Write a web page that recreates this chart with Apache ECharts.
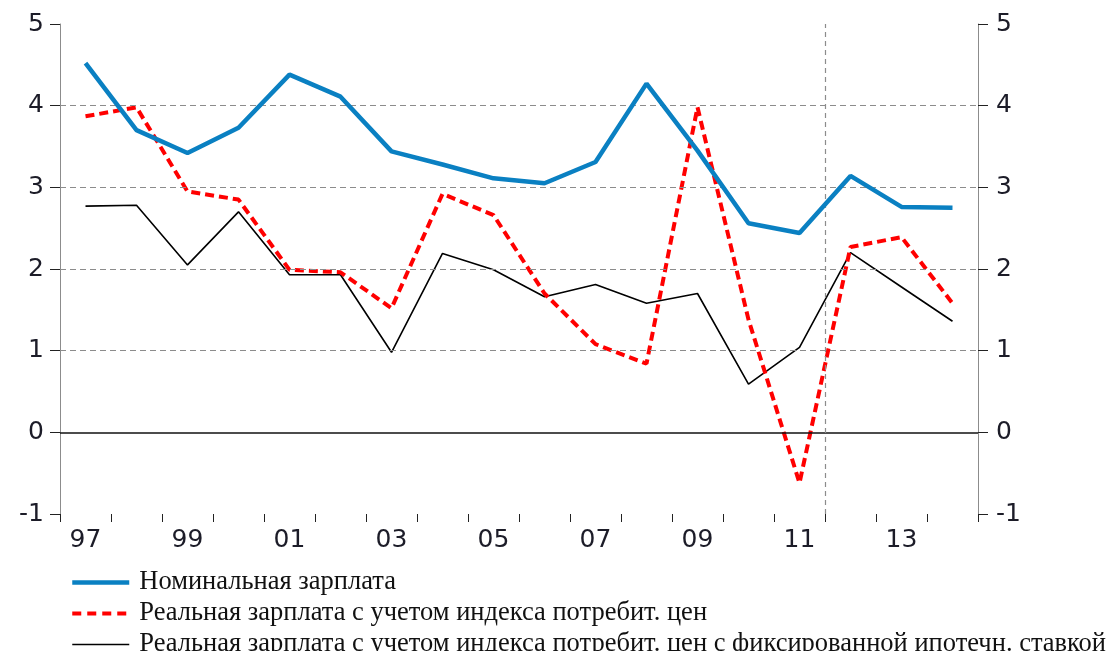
<!DOCTYPE html>
<html>
<head>
<meta charset="utf-8">
<style>
  html, body { margin: 0; padding: 0; background: #fff; }
  #chart { width: 1110px; height: 651px; }
</style>
<script src="https://cdn.jsdelivr.net/npm/echarts@6/dist/echarts.min.js"></script>
</head>
<body>
<div id="chart"></div>
<script>
'use strict';

const years = ['97', '98', '99', '00', '01', '02', '03', '04', '05', '06', '07', '08', '09', '10', '11', '12', '13', '14'];
const nominal = [4.52, 3.70, 3.42, 3.73, 4.38, 4.11, 3.44, 3.28, 3.11, 3.05, 3.31, 4.27, 3.45, 2.56, 2.44, 3.14, 2.76, 2.75];
const realCpi = [3.87, 3.98, 2.95, 2.85, 1.99, 1.96, 1.52, 2.92, 2.66, 1.70, 1.08, 0.84, 3.98, 1.38, -0.62, 2.27, 2.39, 1.58];
const realFixed = [2.77, 2.78, 2.05, 2.70, 1.93, 1.93, 0.98, 2.19, 1.99, 1.66, 1.81, 1.58, 1.70, 0.59, 1.04, 2.20, 1.78, 1.36];
const gridValues = [1, 2, 3, 4];
const breakAt = 15; // boundary between 2011 and 2012

const names = [
  'Номинальная зарплата',
  'Реальная зарплата с учетом индекса потребит. цен',
  'Реальная зарплата с учетом индекса потребит. цен с фиксированной ипотечн. ставкой',
];

const BLUE = '#0a80c2';
const RED = '#ff0000';
const axisFont = { fontFamily: 'DejaVu Sans', fontSize: 25, color: '#1c1c28' };
const grey = '#8c8c8c';

const chart = echarts.init(document.getElementById('chart'));
chart.setOption({
  animation: false,
  grid: { left: 60, right: 132, top: 24, bottom: 137 },
  legend: {
    orient: 'vertical',
    left: 70,
    top: 569,
    height: 120,
    itemWidth: 57,
    itemHeight: 14,
    itemGap: 4,
    padding: 0,
    itemStyle: { opacity: 0 },
    textStyle: { fontFamily: 'Liberation Serif', fontSize: 26.5, color: '#111', padding: [0, 0, 0, 5] },
    data: [
      { name: names[0], lineStyle: { color: BLUE, width: 4.5 } },
      { name: names[1], lineStyle: { color: RED, width: 4, type: [9, 6] } },
      { name: names[2], lineStyle: { color: '#000', width: 1.5 } },
    ],
  },
  xAxis: [{
    type: 'category',
    data: years,
    boundaryGap: true,
    axisLine: { show: false, onZero: false },
    axisTick: { show: true, interval: 0, length: 8, lineStyle: { color: '#222' } },
    axisLabel: { interval: 1, margin: 14, ...axisFont },
    splitLine: { show: false },
  }, {
    type: 'value',
    min: 0,
    max: years.length,
    show: false,
  }],
  yAxis: [{
    type: 'value',
    min: -1,
    max: 5,
    interval: 1,
    position: 'left',
    axisLine: { show: true, lineStyle: { color: grey } },
    axisTick: { show: true, inside: false, length: 10, lineStyle: { color: '#222' } },
    axisLabel: { margin: 16, ...axisFont },
    splitLine: { show: false },
  }, {
    type: 'value',
    min: -1,
    max: 5,
    interval: 1,
    position: 'right',
    axisLine: { show: true, lineStyle: { color: grey } },
    axisTick: { show: true, inside: false, length: 10, lineStyle: { color: '#222' } },
    axisLabel: { margin: 18, ...axisFont },
    splitLine: { show: false },
  }],
  series: [
    {
      name: 'guides',
      type: 'line',
      data: [],
      silent: true,
      markLine: {
        silent: true,
        symbol: 'none',
        label: { show: false },
        data: gridValues.map((v) => ({ yAxis: v, lineStyle: { color: grey, type: [6, 4], width: 1.2 } }))
          .concat([{ yAxis: 0, lineStyle: { color: '#111', type: 'solid', width: 1.5 } }]),
      },
    },
    {
      name: 'break',
      type: 'line',
      xAxisIndex: 1,
      data: [],
      silent: true,
      markLine: {
        silent: true,
        symbol: 'none',
        label: { show: false },
        lineStyle: { color: grey, type: [5, 4], width: 1.2 },
        data: [{ xAxis: breakAt }],
      },
    },
    {
      name: names[2],
      type: 'line',
      data: realFixed,
      symbol: 'none',
      color: '#000',
      lineStyle: { color: '#000', width: 1.6 },
      z: 3,
    },
    {
      name: names[1],
      type: 'line',
      data: realCpi,
      symbol: 'none',
      color: RED,
      lineStyle: { color: RED, width: 4, type: [9, 5] },
      z: 4,
    },
    {
      name: names[0],
      type: 'line',
      data: nominal,
      symbol: 'none',
      color: BLUE,
      lineStyle: { color: BLUE, width: 4.5 },
      z: 5,
    },
  ],
});
</script>
</body>
</html>
